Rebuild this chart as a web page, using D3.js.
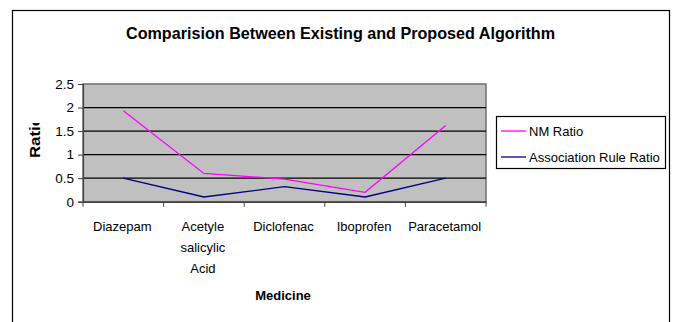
<!DOCTYPE html>
<html>
<head>
<meta charset="utf-8">
<script src="https://cdn.jsdelivr.net/npm/d3@7"></script>
<style>
  html, body { margin: 0; padding: 0; background: #fff; }
  svg { display: block; font-family: "Liberation Sans", Arial, sans-serif; }
</style>
</head>
<body>
<svg id="chart" width="673" height="322"></svg>
<script>
const categories = ["Diazepam", "Acetyle salicylic Acid", "Diclofenac", "Iboprofen", "Paracetamol"];
const categoryLines = [["Diazepam"], ["Acetyle", "salicylic", "Acid"], ["Diclofenac"], ["Iboprofen"], ["Paracetamol"]];
const nmRatio = [1.93, 0.6, 0.48, 0.2, 1.62];
const assocRatio = [0.5, 0.1, 0.32, 0.1, 0.5];
const yTicks = [0, 0.5, 1, 1.5, 2, 2.5];
const seriesNames = ["NM Ratio", "Association Rule Ratio"];
const seriesColors = ["#ff00ff", "#000080"];

const svg = d3.select("#chart");
const plot = { left: 83, right: 486, top: 84, bottom: 201.7 };

// outer chart border (bottom edge outside the picture)
svg.append("rect")
  .attr("x", 12.5).attr("y", 10.5)
  .attr("width", 657).attr("height", 330)
  .attr("fill", "#fff").attr("stroke", "#000").attr("stroke-width", 1.2);

// title
svg.append("text")
  .attr("x", 340.5).attr("y", 39)
  .attr("text-anchor", "middle")
  .attr("font-weight", "bold").attr("font-size", 16.5)
  .attr("textLength", 429).attr("lengthAdjust", "spacingAndGlyphs")
  .text("Comparision Between Existing and Proposed Algorithm");

const x = d3.scaleBand().domain(categories).range([plot.left, plot.right]).padding(0);
const y = d3.scaleLinear().domain([0, 2.5]).range([plot.bottom, plot.top]);

// plot area
svg.append("rect")
  .attr("x", plot.left).attr("y", plot.top)
  .attr("width", plot.right - plot.left).attr("height", plot.bottom - plot.top)
  .attr("fill", "#c0c0c0").attr("stroke", "#707070").attr("stroke-width", 1.5);

// gridlines
svg.append("g")
  .selectAll("line")
  .data(yTicks.filter(d => d > 0 && d < 2.5))
  .join("line")
  .attr("x1", plot.left).attr("x2", plot.right)
  .attr("y1", d => y(d)).attr("y2", d => y(d))
  .attr("stroke", "#000").attr("stroke-width", 1.2);

// y axis
const yAxis = d3.axisLeft(y).tickValues(yTicks).tickSize(5).tickPadding(4)
  .tickFormat(d => String(d));
const yg = svg.append("g").attr("transform", `translate(${plot.left},0)`).call(yAxis);
yg.select(".domain").attr("stroke", "#404040").attr("stroke-width", 1.2);
yg.selectAll(".tick line").attr("stroke", "#404040");
yg.selectAll("text").attr("font-size", 13.5).attr("fill", "#000")
  .attr("font-family", "Liberation Sans, Arial, sans-serif");

// x axis
const xAxis = d3.axisBottom(x).tickSize(0).tickFormat("");
const xg = svg.append("g").attr("transform", `translate(0,${plot.bottom})`).call(xAxis);
xg.select(".domain").attr("stroke", "#404040").attr("stroke-width", 1.5);
const bounds = categories.map(c => x(c)).concat([x(categories[categories.length - 1]) + x.bandwidth()]);
xg.selectAll("line.bt").data(bounds).join("line").attr("class", "bt")
  .attr("x1", d => d).attr("x2", d => d).attr("y1", 0).attr("y2", 5)
  .attr("stroke", "#404040");

// category labels
const labelG = svg.append("g");
categories.forEach((c, i) => {
  const cx = x(c) + x.bandwidth() / 2 - 1;
  const t = labelG.append("text")
    .attr("x", cx)
    .attr("y", 230.5)
    .attr("text-anchor", "middle")
    .attr("font-size", 13);
  categoryLines[i].forEach((ln, j) => {
    t.append("tspan").attr("x", cx).attr("dy", j === 0 ? 0 : 21).text(ln);
  });
});

// axis titles
svg.append("text")
  .attr("x", 283).attr("y", 300)
  .attr("text-anchor", "middle").attr("font-weight", "bold").attr("font-size", 13)
  .text("Medicine");

svg.append("clipPath").attr("id", "ratioClip")
  .append("rect").attr("x", 20).attr("y", 123).attr("width", 30).attr("height", 60);
svg.append("g").attr("clip-path", "url(#ratioClip)")
  .append("text")
  .attr("transform", "translate(39.5,158) rotate(-90) scale(1.2,1)")
  .attr("font-weight", "bold").attr("font-size", 14)
  .text("Ratio");

// lines
const line = d3.line()
  .x((d, i) => x(categories[i]) + x.bandwidth() / 2)
  .y(d => y(d));
[nmRatio, assocRatio].forEach((s, k) => {
  svg.append("path").datum(s)
    .attr("d", line)
    .attr("fill", "none")
    .attr("stroke", seriesColors[k])
    .attr("stroke-width", 1.3);
});

// legend
const lg = svg.append("g");
lg.append("rect").attr("x", 496.5).attr("y", 116.5).attr("width", 169).attr("height", 52)
  .attr("fill", "#fff").attr("stroke", "#000").attr("stroke-width", 1.2);
seriesNames.forEach((n, k) => {
  const yy = 131 + k * 26;
  lg.append("line").attr("x1", 501).attr("x2", 526).attr("y1", yy).attr("y2", yy)
    .attr("stroke", seriesColors[k]).attr("stroke-width", 1.3);
  lg.append("text").attr("x", 529).attr("y", yy + 4.5).attr("font-size", 13).text(n);
});
</script>
</body>
</html>
